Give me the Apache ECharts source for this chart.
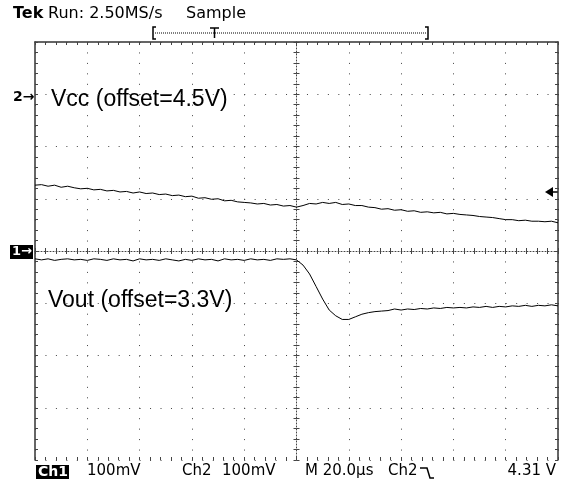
<!DOCTYPE html>
<html>
<head>
<meta charset="UTF-8">
<title>Tek scope capture</title>
<script src="https://cdn.jsdelivr.net/npm/echarts@6/dist/echarts.min.js"></script>
<style>
  html, body { margin: 0; padding: 0; background: #fff; }
  #chart { width: 561px; height: 481px; }
</style>
</head>
<body>
<div id="chart"></div>
<script type="text/javascript">
    // time in us relative to trigger (screen center), 20us/div
    var timeUs = [-100, -97.5, -95, -92.5, -90, -87.5, -85, -82.5, -80, -77.5,
        -75, -72.5, -70, -67.5, -65, -62.5, -60, -57.5, -55, -52.5,
        -50, -47.5, -45, -42.5, -40, -37.5, -35, -32.5, -30, -27.5,
        -25, -22.5, -20, -17.5, -15, -12.5, -10, -7.5, -5, -2.5,
        0, 2.5, 5, 7.5, 10, 12.5, 15, 17.5, 20, 22.5,
        25, 27.5, 30, 32.5, 35, 37.5, 40, 42.5, 45, 47.5,
        50, 52.5, 55, 57.5, 60, 62.5, 65, 67.5, 70, 72.5,
        75, 77.5, 80, 82.5, 85, 87.5, 90, 92.5, 95, 97.5, 100];

    // screen position in mV from graticule center (100mV/div)
    var vccMv = [126, 127, 124, 126, 122, 124, 121, 119, 120, 117,
        118, 115, 116, 113, 114, 111, 113, 110, 111, 108,
        109, 106, 107, 104, 105, 101, 102, 99, 100, 96,
        97, 94, 93, 92, 90, 91, 88, 89, 86, 87,
        84, 87, 91, 90, 93, 91, 93, 89, 90, 87,
        87, 84, 83, 80, 81, 78, 79, 76, 77, 74,
        75, 73, 74, 71, 72, 70, 69, 68, 66, 65,
        64, 62, 60, 60, 58, 59, 57, 57, 56, 57, 54];

    var voutMv = [-15, -17, -15, -18, -16, -15, -17, -16, -18, -15,
        -16, -18, -15, -17, -16, -19, -15, -17, -16, -18,
        -15, -17, -19, -16, -18, -15, -17, -16, -19, -15,
        -17, -16, -18, -15, -17, -16, -18, -15, -16, -15,
        -17, -27, -44, -68, -92, -113, -124, -131, -131, -126,
        -121, -118, -116, -115, -114, -111, -113, -111, -112, -110,
        -111, -109, -110, -108, -109, -108, -109, -107, -108, -106,
        -108, -106, -107, -105, -106, -104, -106, -104, -105, -103, -105];

    var bottomLabels = ['100mV', 'Ch2', '100mV', 'M 20.0\u00b5s', 'Ch2'];
    var bottomLabelX = [87, 182, 222, 305, 388];

    function pairs(xs, ys) {
        var out = [];
        for (let i = 0; i < xs.length; i++) {
            out.push([xs[i], ys[i]]);
        }
        return out;
    }

    var uiFont = '15px "DejaVu Sans"';
    var frameColor = '#333';
    var dotColor = '#444';

    var graphic = [
        // header
        {type: 'text', left: 13, top: 6, style: {text: 'Tek', font: 'bold 16px "DejaVu Sans"', fill: '#000'}},
        {type: 'text', left: 48, top: 6, style: {text: 'Run: 2.50MS/s', font: '16px "DejaVu Sans"', fill: '#000'}},
        {type: 'text', left: 186, top: 6, style: {text: 'Sample', font: '16px "DejaVu Sans"', fill: '#000'}},
        // record bar
        {type: 'polyline', shape: {points: [[156, 27], [153, 27], [153, 39], [156, 39]]}, style: {stroke: '#000', lineWidth: 1.5, fill: null}},
        {type: 'polyline', shape: {points: [[425, 27], [428, 27], [428, 39], [425, 39]]}, style: {stroke: '#000', lineWidth: 1.5, fill: null}},
        {type: 'line', shape: {x1: 155, y1: 33, x2: 426, y2: 33}, style: {stroke: '#000', lineWidth: 1, lineDash: [1, 1]}},
        {type: 'line', shape: {x1: 210, y1: 28, x2: 219, y2: 28}, style: {stroke: '#000', lineWidth: 1.5}},
        {type: 'line', shape: {x1: 214.5, y1: 28, x2: 214.5, y2: 38}, style: {stroke: '#000', lineWidth: 1.5}},
        // channel 2 marker
        {type: 'text', left: 13, top: 90, style: {text: '2\u2192', font: 'bold 14px "DejaVu Sans"', fill: '#000'}},
        // channel 1 marker
        {type: 'rect', shape: {x: 10, y: 245, width: 23, height: 14}, style: {fill: '#000'}},
        {type: 'text', left: 12, top: 245, style: {text: '1\u2192', font: 'bold 13px "DejaVu Sans"', fill: '#fff'}},
        // trigger level marker
        {type: 'polygon', shape: {points: [[545, 192], [553, 187], [553, 197]]}, style: {fill: '#000'}},
        {type: 'line', shape: {x1: 552, y1: 192, x2: 558, y2: 192}, style: {stroke: '#000', lineWidth: 1.5}},
        // trace labels
        {type: 'text', left: 51, top: 88, style: {text: 'Vcc (offset=4.5V)', font: '23px "Liberation Sans"', fill: '#000'}},
        {type: 'text', left: 48, top: 289, style: {text: 'Vout (offset=3.3V)', font: '23px "Liberation Sans"', fill: '#000'}},
        // footer
        {type: 'rect', shape: {x: 36, y: 465, width: 33, height: 14}, style: {fill: '#000'}},
        {type: 'text', left: 38, top: 465, style: {text: 'Ch1', font: 'bold 14px "DejaVu Sans"', fill: '#fff'}},
        {type: 'polyline', shape: {points: [[420, 468], [427, 468], [430, 478], [434, 478]]}, style: {stroke: '#000', lineWidth: 1.5, fill: null}},
        {type: 'text', right: 5, top: 464, style: {text: '4.31 V', font: uiFont, fill: '#000'}}
    ];
    for (let i = 0; i < bottomLabels.length; i++) {
        graphic.push({type: 'text', left: bottomLabelX[i], top: 464,
            style: {text: bottomLabels[i], font: uiFont, fill: '#000'}});
    }

    function borderAxis(pos, showLine, split, dash) {
        return {
            type: 'value', position: pos,
            axisLine: {show: showLine, onZero: false, lineStyle: {color: frameColor, width: 1.5}},
            axisTick: {show: true, inside: true, length: 3, lineStyle: {color: dotColor}},
            minorTick: {show: true, splitNumber: 5, length: 3, lineStyle: {color: dotColor}},
            axisLabel: {show: false},
            splitLine: {show: split, lineStyle: {color: dotColor, width: 1, type: dash}}
        };
    }

    function centerAxis(pos, showLine, inside) {
        return {
            type: 'value', position: pos,
            axisLine: {show: showLine, onZero: true, onZeroAxisIndex: 0,
                lineStyle: {color: dotColor, width: 1, type: [1, 2]}},
            axisTick: {show: true, inside: inside, length: 3, lineStyle: {color: dotColor}},
            minorTick: {show: true, splitNumber: 5, length: 3, lineStyle: {color: dotColor}},
            axisLabel: {show: false},
            splitLine: {show: false}
        };
    }

    var xAxes = [
        borderAxis('bottom', false, true, [1, 9.45]),
        borderAxis('top', true, false, 'solid'),
        centerAxis('bottom', true, true),
        centerAxis('bottom', false, false)
    ];
    xAxes.forEach(function (a) { a.min = -100; a.max = 100; a.interval = 20; });

    var yAxes = [
        borderAxis('left', true, true, [1, 9.46]),
        borderAxis('right', true, false, 'solid'),
        centerAxis('left', true, true),
        centerAxis('left', false, false)
    ];
    yAxes.forEach(function (a) { a.min = -400; a.max = 400; a.interval = 100; });

    var option = {
        animation: false,
        backgroundColor: '#fff',
        grid: {left: 35, top: 42, width: 523, height: 418},
        xAxis: xAxes,
        yAxis: yAxes,
        graphic: graphic,
        series: [
            {
                name: 'Vcc',
                type: 'line',
                xAxisIndex: 0, yAxisIndex: 0,
                showSymbol: false,
                lineStyle: {color: '#000', width: 1},
                data: pairs(timeUs, vccMv)
            },
            {
                name: 'Vout',
                type: 'line',
                xAxisIndex: 0, yAxisIndex: 0,
                showSymbol: false,
                lineStyle: {color: '#000', width: 1},
                data: pairs(timeUs, voutMv)
            }
        ]
    };

    var myChart = echarts.init(document.getElementById('chart'));
    myChart.setOption(option);
</script>
</body>
</html>
